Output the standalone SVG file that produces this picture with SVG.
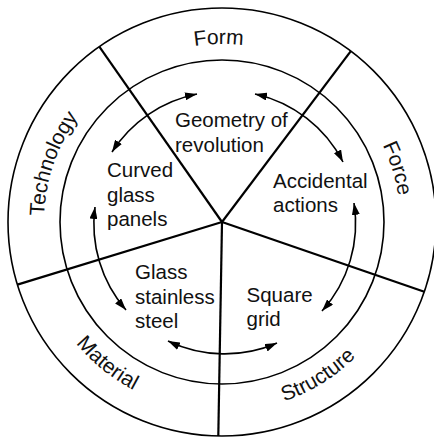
<svg xmlns="http://www.w3.org/2000/svg" width="434" height="437" viewBox="0 0 434 437">
<style>
.ring{fill:none;stroke:#000;stroke-width:1.6}
.div{stroke:#000;stroke-width:2.2;fill:none}
.arc{fill:none;stroke:#000;stroke-width:1.6;marker-start:url(#ah);marker-end:url(#ah)}
text{font-family:"Liberation Sans",Arial,Helvetica,sans-serif;font-size:20.5px;fill:#111}
.rl{font-size:21px}
</style>
<defs>
<marker id="ah" markerUnits="userSpaceOnUse" viewBox="0 0 12 8" refX="12" refY="4" markerWidth="12" markerHeight="8" orient="auto-start-reverse">
<path d="M0,0 L12,4 L0,8 z" fill="#000"/>
</marker>
<path id="pForm" d="M 53.7 164.0 A 178 178 0 0 1 388.2 158.2"/>
<path id="pTech" d="M 110.0 360.3 A 178 178 0 0 1 218.9 44.0"/>
<path id="pForce" d="M 231.3 44.2 A 178 178 0 0 1 329.1 364.2"/>
<path id="pMat" d="M 42.4 160.1 A 190 190 0 0 0 319.9 384.9"/>
<path id="pStr" d="M 105.0 371.7 A 190 190 0 0 0 407.8 182.5"/>
</defs>
<rect width="434" height="437" fill="#fff"/>
<g id="rings">
<circle class="ring" cx="222" cy="222" r="214"/>
<circle class="ring" cx="222" cy="222" r="162"/>
</g>
<g id="dividers">
<line class="div" x1="222" y1="222" x2="350.8" y2="51.1"/>
<line class="div" x1="222" y1="222" x2="99.3" y2="46.7"/>
<line class="div" x1="222" y1="222" x2="17.4" y2="284.6"/>
<line class="div" x1="222" y1="222" x2="218.3" y2="436"/>
<line class="div" x1="222" y1="222" x2="424.3" y2="291.7"/>
</g>
<g id="ring-labels">
<text id="form" class="rl"><textPath href="#pForm" startOffset="50%" text-anchor="middle">Form</textPath></text>
<text id="technology" class="rl"><textPath href="#pTech" startOffset="50%" text-anchor="middle">Technology</textPath></text>
<text id="force" class="rl"><textPath href="#pForce" startOffset="50%" text-anchor="middle">Force</textPath></text>
<text id="material" class="rl"><textPath href="#pMat" startOffset="50%" text-anchor="middle">Material</textPath></text>
<text id="structure" class="rl"><textPath href="#pStr" startOffset="50%" text-anchor="middle">Structure</textPath></text>
</g>
<g id="connectors">
<path class="arc" d="M 112 152 A 131 131 0 0 1 197 94"/>
<path class="arc" d="M 255 94 A 131 131 0 0 1 343 162"/>
<path class="arc" d="M 354 203 A 131 131 0 0 1 322 311"/>
<path class="arc" d="M 277 343 A 131 131 0 0 1 168 341"/>
<path class="arc" d="M 126 310 A 131 131 0 0 1 95 207"/>
</g>
<g id="geometry">
<text x="175" y="127">Geometry of</text>
<text x="175" y="151.5">revolution</text>
</g>
<g id="curved">
<text x="107" y="177">Curved</text>
<text x="107" y="201.5">glass</text>
<text x="107" y="226">panels</text>
</g>
<g id="accidental">
<text x="273" y="187.5">Accidental</text>
<text x="273" y="212">actions</text>
</g>
<g id="glass">
<text x="135" y="278.5">Glass</text>
<text x="135" y="303.5">stainless</text>
<text x="135" y="328">steel</text>
</g>
<g id="square">
<text x="246.5" y="301.5">Square</text>
<text x="246.5" y="325.5">grid</text>
</g>
</svg>
